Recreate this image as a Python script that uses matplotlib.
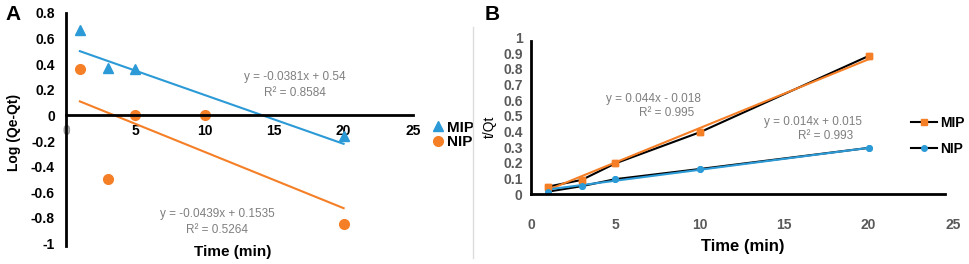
import matplotlib
matplotlib.use('Agg')
import matplotlib.pyplot as plt
import numpy as np

plt.rcParams['font.family'] = ['Liberation Sans', 'DejaVu Sans']

W, H = 969, 264
blue = '#2b9ad6'
orange = '#f57f26'
gray_txt = '#7f7f7f'

# panel A: pseudo-first-order
time_a = [1, 3, 5, 10, 20]
mip_t_a = [1, 3, 5, 20]
mip_a = [0.67, 0.37, 0.36, -0.16]
nip_a = [0.365, -0.50, 0.0, 0.0, -0.85]
fit_mip_a = (-0.0381, 0.54)
fit_nip_a = (-0.0439, 0.1535)

# panel B: pseudo-second-order
time_b = [1, 3, 5, 10, 20]
mip_b = [0.047, 0.09, 0.196, 0.395, 0.883]
nip_b = [0.015, 0.05, 0.095, 0.16, 0.295]
fit_mip_b = (0.044, -0.018)
fit_nip_b = (0.014, 0.015)


def box(x0, y0, x1, y1):
    return [x0 / W, 1 - y1 / H, (x1 - x0) / W, (y1 - y0) / H]


def fx(x, y):
    return x / W, 1 - y / H


fig = plt.figure(figsize=(W / 100, H / 100), dpi=100)

# ---------------- A ----------------
ax = fig.add_axes(box(66, 13, 413, 246))
ax.set_xlim(0, 25)
ax.set_ylim(-1.02, 0.8)
for s in ['top', 'right']:
    ax.spines[s].set_visible(False)
ax.spines['left'].set_linewidth(2)
ax.spines['bottom'].set_linewidth(2)
ax.spines['bottom'].set_position(('data', 0))
ax.set_xticks([0, 5, 10, 15, 20, 25])
ax.set_yticks([-1, -0.8, -0.6, -0.4, -0.2, 0, 0.2, 0.4, 0.6, 0.8])
ax.set_yticklabels(['-1', '-0.8', '-0.6', '-0.4', '-0.2', '0', '0.2', '0.4', '0.6', '0.8'])
ax.tick_params(length=0, labelsize=10, pad=8)
ax.tick_params(axis='x', pad=6)
for lab in ax.get_xticklabels() + ax.get_yticklabels():
    lab.set_fontweight('bold')
ax.get_xticklabels()[0].set_color('#9a9a9a')

xa = np.array([1, 20])
ax.plot(xa, fit_mip_a[0] * xa + fit_mip_a[1], color=blue, lw=1.5)
ax.plot(xa, fit_nip_a[0] * xa + fit_nip_a[1], color=orange, lw=1.5)
ax.plot(mip_t_a, mip_a, '^', color=blue, ms=7, ls='none', label='MIP', clip_on=False)
ax.plot(time_a, nip_a, 'o', color=orange, ms=7, ls='none', label='NIP', clip_on=False)

ax.legend(loc='center left', bbox_to_anchor=fx(424, 135), bbox_transform=fig.transFigure,
          frameon=False, handlelength=0.8, handletextpad=0.2, labelspacing=0.05,
          prop={'weight': 'bold', 'size': 11}, borderpad=0)

fig.text(*fx(295, 77), 'y = -0.0381x + 0.54', color=gray_txt, fontsize=8.5, ha='center', va='center')
fig.text(*fx(295, 93), 'R² = 0.8584', color=gray_txt, fontsize=8.5, ha='center', va='center')
fig.text(*fx(217, 214), 'y = -0.0439x + 0.1535', color=gray_txt, fontsize=8.5, ha='center', va='center')
fig.text(*fx(217, 230), 'R² = 0.5264', color=gray_txt, fontsize=8.5, ha='center', va='center')
fig.text(*fx(233, 252), 'Time (min)', fontsize=11, fontweight='bold', ha='center', va='center')
fig.text(*fx(14, 132), 'Log (Qe-Qt)', fontsize=10, fontweight='bold', ha='center', va='center', rotation=90)
fig.text(*fx(5, 14), 'A', fontsize=15, fontweight='bold', ha='left', va='center')
fig.add_artist(plt.Line2D([473 / W, 473 / W], [1 - 258 / H, 1 - 27 / H], color='#dcdcdc', lw=1))

# ---------------- B ----------------
bx = fig.add_axes(box(531, 37.7, 953, 194))
bx.set_xlim(0, 25)
bx.set_ylim(0, 1)
for s in ['top', 'right']:
    bx.spines[s].set_visible(False)
bx.spines['left'].set_linewidth(2)
bx.spines['bottom'].set_linewidth(2)
bx.spines['bottom'].set_bounds(0, 24.5)
bx.spines['left'].set_bounds(0, 0.98)
bx.set_xticks([0, 5, 10, 15, 20, 25])
bx.set_yticks(np.round(np.arange(0, 1.01, 0.1), 1))
bx.set_yticklabels(['0', '0.1', '0.2', '0.3', '0.4', '0.5', '0.6', '0.7', '0.8', '0.9', '1'])
bx.tick_params(length=0, labelsize=10, labelcolor='#595959', pad=6)
bx.tick_params(axis='x', pad=17)
for lab in bx.get_xticklabels() + bx.get_yticklabels():
    lab.set_fontweight('bold')

xb = np.array([1, 20])
bx.plot(time_b, mip_b, '-s', color='black', mfc=orange, mec=orange, ms=5, lw=1.5, label='MIP')
bx.plot(time_b, nip_b, '-o', color='black', mfc=blue, mec=blue, ms=4, lw=1.5, label='NIP')
bx.plot(xb, fit_mip_b[0] * xb + fit_mip_b[1], color=orange, lw=1.5)
bx.plot(xb, fit_nip_b[0] * xb + fit_nip_b[1], color=blue, lw=1.5)
bx.plot(time_b, mip_b, 's', color=orange, ms=5)
bx.plot(time_b, nip_b, 'o', color=blue, ms=4)

bx.legend(loc='center left', bbox_to_anchor=fx(904, 136), bbox_transform=fig.transFigure,
          frameon=False, handlelength=1.9, handletextpad=0.2, labelspacing=0.85,
          prop={'weight': 'bold', 'size': 10}, borderpad=0)

fig.text(*fx(653, 99), 'y = 0.044x - 0.018', color=gray_txt, fontsize=8.5, ha='center', va='center')
fig.text(*fx(667, 113), 'R² = 0.995', color=gray_txt, fontsize=8.5, ha='center', va='center')
fig.text(*fx(813, 122), 'y = 0.014x + 0.015', color=gray_txt, fontsize=8.5, ha='center', va='center')
fig.text(*fx(826, 136), 'R² = 0.993', color=gray_txt, fontsize=8.5, ha='center', va='center')
fig.text(*fx(743, 247), 'Time (min)', fontsize=12, fontweight='bold', ha='center', va='center')
fig.text(*fx(490, 127), 't/Qt', fontsize=10, ha='center', va='center', rotation=90)
fig.text(*fx(485, 14), 'B', fontsize=15, fontweight='bold', ha='left', va='center')

fig.savefig('out.png', dpi=100)
